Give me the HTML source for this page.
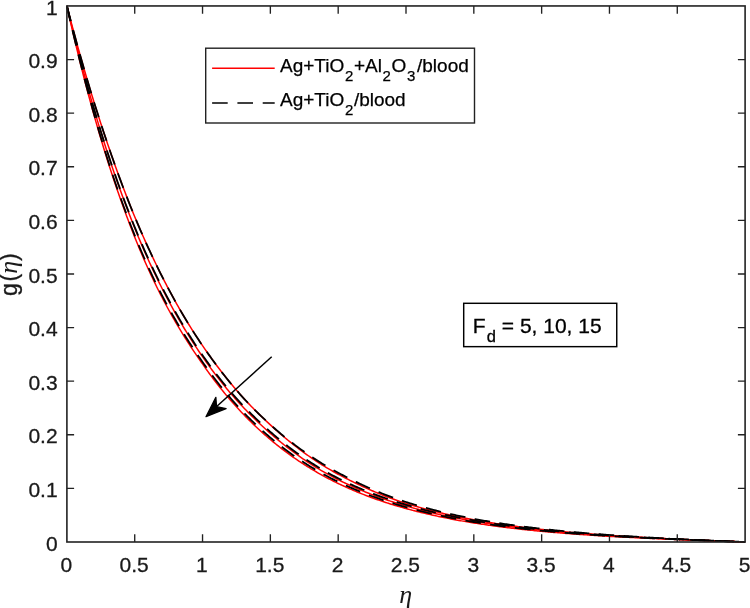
<!DOCTYPE html>
<html><head><meta charset="utf-8"><title>g(η) profile</title>
<style>
html,body{margin:0;padding:0;background:#fff;}
body{width:750px;height:608px;overflow:hidden;}
svg{display:block;}
.t{font-family:"Liberation Sans",sans-serif;font-size:21px;fill:#1a1a1a;stroke:#1a1a1a;stroke-width:0.3px;}
.lg{font-family:"Liberation Sans",sans-serif;font-size:19px;fill:#000;stroke:#000;stroke-width:0.25px;}
.sb{font-family:"Liberation Sans",sans-serif;font-size:15px;fill:#000;}
.an{font-family:"Liberation Sans",sans-serif;font-size:21px;fill:#000;stroke:#000;stroke-width:0.3px;}
.eta{font-family:"Liberation Serif",serif;font-style:italic;font-size:23px;fill:#1a1a1a;}
.yl{font-family:"Liberation Sans",sans-serif;font-size:23px;fill:#1a1a1a;stroke:#1a1a1a;stroke-width:0.3px;}
</style></head><body>
<svg width="750" height="608" viewBox="0 0 750 608">
<rect x="0" y="0" width="750" height="608" fill="#fff"/>
<g fill="none" stroke="#ff0000" stroke-width="1.5">
<path d="M66.90 5.95 L68.26 11.21 L69.61 16.41 L70.97 21.57 L72.33 26.67 L73.68 31.73 L75.04 36.75 L76.39 41.71 L77.75 46.63 L79.11 51.50 L80.46 56.33 L81.82 61.11 L83.18 65.85 L84.53 70.55 L85.89 75.20 L87.25 79.80 L88.60 84.37 L89.96 88.89 L91.32 93.36 L92.67 97.79 L94.03 102.18 L95.38 106.53 L96.74 110.84 L98.10 115.10 L99.45 119.32 L100.81 123.49 L102.17 127.64 L103.52 131.75 L104.88 135.82 L106.24 139.86 L107.59 143.87 L108.95 147.84 L110.30 151.78 L111.66 155.69 L113.02 159.56 L114.37 163.39 L115.73 167.20 L117.09 170.97 L118.44 174.70 L119.80 178.40 L121.16 182.07 L122.51 185.69 L123.87 189.29 L125.23 192.85 L126.58 196.37 L127.94 199.86 L129.29 203.31 L130.65 206.72 L132.01 210.10 L133.36 213.43 L134.72 216.73 L136.08 219.97 L137.43 223.19 L138.79 226.37 L140.15 229.52 L141.50 232.64 L142.86 235.73 L144.21 238.79 L145.57 241.82 L146.93 244.82 L148.28 247.80 L149.64 250.74 L151.00 253.66 L152.35 256.55 L153.71 259.41 L155.07 262.24 L156.42 265.05 L157.78 267.83 L159.14 270.58 L160.49 273.31 L161.85 276.01 L163.20 278.68 L164.56 281.33 L165.92 283.95 L167.27 286.54 L168.63 289.11 L169.99 291.66 L171.34 294.18 L172.70 296.67 L174.06 299.14 L175.41 301.59 L176.77 304.01 L178.12 306.41 L179.48 308.78 L180.84 311.13 L182.19 313.46 L183.55 315.76 L184.91 318.04 L186.26 320.30 L187.62 322.53 L188.98 324.74 L190.33 326.93 L191.69 329.10 L193.05 331.24 L194.40 333.36 L195.76 335.46 L197.11 337.54 L198.47 339.60 L199.83 341.63 L201.18 343.65 L202.54 345.64 L203.90 347.62 L205.25 349.59 L206.61 351.53 L207.97 353.46 L209.32 355.38 L210.68 357.27 L212.03 359.15 L213.39 361.01 L214.75 362.86 L216.10 364.69 L217.46 366.50 L218.82 368.29 L220.17 370.07 L221.53 371.84 L222.89 373.58 L224.24 375.31 L225.60 377.02 L226.96 378.72 L228.31 380.40 L229.67 382.06 L231.02 383.71 L232.38 385.34 L233.74 386.95 L235.09 388.55 L236.45 390.13 L237.81 391.70 L239.16 393.24 L240.52 394.78 L241.88 396.29 L243.23 397.79 L244.59 399.28 L245.94 400.75 L247.30 402.20 L248.66 403.63 L250.01 405.05 L251.37 406.46 L252.73 407.85 L254.08 409.22 L255.44 410.58 L256.80 411.92 L258.15 413.26 L259.51 414.60 L260.87 415.92 L262.22 417.24 L263.58 418.54 L264.93 419.83 L266.29 421.12 L267.65 422.39 L269.00 423.65 L270.36 424.91 L271.72 426.15 L273.07 427.38 L274.43 428.60 L275.79 429.82 L277.14 431.02 L278.50 432.21 L279.85 433.39 L281.21 434.56 L282.57 435.72 L283.92 436.86 L285.28 438.00 L286.64 439.13 L287.99 440.25 L289.35 441.36 L290.71 442.45 L292.06 443.54 L293.42 444.61 L294.78 445.68 L296.13 446.73 L297.49 447.77 L298.84 448.81 L300.20 449.83 L301.56 450.84 L302.91 451.84 L304.27 452.83 L305.63 453.82 L306.98 454.79 L308.34 455.74 L309.70 456.69 L311.05 457.63 L312.41 458.56 L313.76 459.48 L315.12 460.38 L316.48 461.28 L317.83 462.17 L319.19 463.04 L320.55 463.91 L321.90 464.76 L323.26 465.61 L324.62 466.44 L325.97 467.27 L327.33 468.08 L328.69 468.88 L330.04 469.68 L331.40 470.46 L332.75 471.23 L334.11 471.99 L335.47 472.75 L336.82 473.49 L338.18 474.22 L339.54 474.95 L340.89 475.67 L342.25 476.38 L343.61 477.09 L344.96 477.79 L346.32 478.49 L347.67 479.18 L349.03 479.87 L350.39 480.55 L351.74 481.23 L353.10 481.90 L354.46 482.57 L355.81 483.23 L357.17 483.89 L358.53 484.54 L359.88 485.18 L361.24 485.82 L362.60 486.45 L363.95 487.07 L365.31 487.69 L366.66 488.31 L368.02 488.92 L369.38 489.52 L370.73 490.11 L372.09 490.70 L373.45 491.29 L374.80 491.86 L376.16 492.43 L377.52 493.00 L378.87 493.56 L380.23 494.11 L381.58 494.65 L382.94 495.19 L384.30 495.73 L385.65 496.25 L387.01 496.77 L388.37 497.29 L389.72 497.79 L391.08 498.29 L392.44 498.79 L393.79 499.27 L395.15 499.76 L396.51 500.23 L397.86 500.70 L399.22 501.16 L400.57 501.62 L401.93 502.06 L403.29 502.51 L404.64 502.94 L406.00 503.37 L407.36 503.79 L408.71 504.20 L410.07 504.61 L411.43 505.01 L412.78 505.41 L414.14 505.81 L415.49 506.20 L416.85 506.59 L418.21 506.98 L419.56 507.36 L420.92 507.74 L422.28 508.11 L423.63 508.49 L424.99 508.86 L426.35 509.22 L427.70 509.58 L429.06 509.94 L430.42 510.29 L431.77 510.65 L433.13 510.99 L434.48 511.34 L435.84 511.68 L437.20 512.01 L438.55 512.35 L439.91 512.68 L441.27 513.00 L442.62 513.33 L443.98 513.65 L445.34 513.96 L446.69 514.28 L448.05 514.59 L449.40 514.89 L450.76 515.19 L452.12 515.49 L453.47 515.79 L454.83 516.08 L456.19 516.37 L457.54 516.66 L458.90 516.94 L460.26 517.22 L461.61 517.49 L462.97 517.77 L464.33 518.04 L465.68 518.30 L467.04 518.57 L468.39 518.83 L469.75 519.08 L471.11 519.34 L472.46 519.59 L473.82 519.83 L475.18 520.08 L476.53 520.32 L477.89 520.56 L479.25 520.79 L480.60 521.02 L481.96 521.26 L483.31 521.48 L484.67 521.71 L486.03 521.94 L487.38 522.16 L488.74 522.38 L490.10 522.60 L491.45 522.81 L492.81 523.02 L494.17 523.24 L495.52 523.44 L496.88 523.65 L498.24 523.86 L499.59 524.06 L500.95 524.26 L502.30 524.46 L503.66 524.66 L505.02 524.85 L506.37 525.05 L507.73 525.24 L509.09 525.43 L510.44 525.61 L511.80 525.80 L513.16 525.98 L514.51 526.17 L515.87 526.35 L517.22 526.52 L518.58 526.70 L519.94 526.88 L521.29 527.05 L522.65 527.22 L524.01 527.39 L525.36 527.56 L526.72 527.72 L528.08 527.89 L529.43 528.05 L530.79 528.21 L532.15 528.37 L533.50 528.53 L534.86 528.69 L536.21 528.85 L537.57 529.00 L538.93 529.15 L540.28 529.30 L541.64 529.45 L543.00 529.60 L544.35 529.75 L545.71 529.89 L547.07 530.04 L548.42 530.18 L549.78 530.32 L551.13 530.46 L552.49 530.60 L553.85 530.73 L555.20 530.87 L556.56 531.00 L557.92 531.14 L559.27 531.27 L560.63 531.40 L561.99 531.53 L563.34 531.65 L564.70 531.78 L566.06 531.91 L567.41 532.03 L568.77 532.15 L570.12 532.28 L571.48 532.40 L572.84 532.52 L574.19 532.63 L575.55 532.75 L576.91 532.87 L578.26 532.98 L579.62 533.10 L580.98 533.21 L582.33 533.32 L583.69 533.43 L585.04 533.54 L586.40 533.65 L587.76 533.76 L589.11 533.86 L590.47 533.97 L591.83 534.08 L593.18 534.18 L594.54 534.28 L595.90 534.38 L597.25 534.49 L598.61 534.59 L599.97 534.68 L601.32 534.78 L602.68 534.88 L604.03 534.98 L605.39 535.07 L606.75 535.17 L608.10 535.26 L609.46 535.35 L610.82 535.45 L612.17 535.54 L613.53 535.63 L614.89 535.72 L616.24 535.81 L617.60 535.90 L618.95 535.98 L620.31 536.07 L621.67 536.16 L623.02 536.24 L624.38 536.33 L625.74 536.41 L627.09 536.49 L628.45 536.58 L629.81 536.66 L631.16 536.74 L632.52 536.82 L633.88 536.90 L635.23 536.98 L636.59 537.06 L637.94 537.13 L639.30 537.21 L640.66 537.29 L642.01 537.36 L643.37 537.44 L644.73 537.52 L646.08 537.59 L647.44 537.66 L648.80 537.74 L650.15 537.81 L651.51 537.88 L652.86 537.95 L654.22 538.02 L655.58 538.09 L656.93 538.16 L658.29 538.23 L659.65 538.30 L661.00 538.37 L662.36 538.44 L663.72 538.51 L665.07 538.57 L666.43 538.64 L667.79 538.71 L669.14 538.77 L670.50 538.84 L671.85 538.90 L673.21 538.97 L674.57 539.03 L675.92 539.10 L677.28 539.16 L678.64 539.22 L679.99 539.29 L681.35 539.35 L682.71 539.41 L684.06 539.47 L685.42 539.53 L686.77 539.59 L688.13 539.65 L689.49 539.71 L690.84 539.77 L692.20 539.83 L693.56 539.89 L694.91 539.95 L696.27 540.01 L697.63 540.07 L698.98 540.13 L700.34 540.19 L701.70 540.24 L703.05 540.30 L704.41 540.36 L705.76 540.42 L707.12 540.47 L708.48 540.53 L709.83 540.59 L711.19 540.64 L712.55 540.70 L713.90 540.75 L715.26 540.81 L716.62 540.86 L717.97 540.92 L719.33 540.97 L720.68 541.03 L722.04 541.08 L723.40 541.14 L724.75 541.19 L726.11 541.25 L727.47 541.30 L728.82 541.36 L730.18 541.41 L731.54 541.46 L732.89 541.52 L734.25 541.57 L735.61 541.63 L736.96 541.68 L738.32 541.73 L739.67 541.79 L741.03 541.84 L742.39 541.89 L743.74 541.95 L745.10 542.00"/>
<path d="M66.90 5.95 L68.26 11.66 L69.61 17.30 L70.97 22.88 L72.33 28.41 L73.68 33.88 L75.04 39.28 L76.39 44.63 L77.75 49.93 L79.11 55.17 L80.46 60.35 L81.82 65.47 L83.18 70.55 L84.53 75.56 L85.89 80.53 L87.25 85.44 L88.60 90.30 L89.96 95.11 L91.32 99.86 L92.67 104.57 L94.03 109.22 L95.38 113.83 L96.74 118.39 L98.10 122.89 L99.45 127.35 L100.81 131.77 L102.17 136.13 L103.52 140.45 L104.88 144.73 L106.24 148.95 L107.59 153.14 L108.95 157.28 L110.30 161.37 L111.66 165.42 L113.02 169.43 L114.37 173.40 L115.73 177.32 L117.09 181.20 L118.44 185.04 L119.80 188.84 L121.16 192.60 L122.51 196.32 L123.87 200.00 L125.23 203.64 L126.58 207.25 L127.94 210.81 L129.29 214.34 L130.65 217.83 L132.01 221.28 L133.36 224.69 L134.72 228.07 L136.08 231.40 L137.43 234.69 L138.79 237.95 L140.15 241.16 L141.50 244.34 L142.86 247.49 L144.21 250.60 L145.57 253.67 L146.93 256.71 L148.28 259.72 L149.64 262.69 L151.00 265.62 L152.35 268.53 L153.71 271.40 L155.07 274.24 L156.42 277.05 L157.78 279.82 L159.14 282.57 L160.49 285.28 L161.85 287.97 L163.20 290.62 L164.56 293.25 L165.92 295.84 L167.27 298.41 L168.63 300.95 L169.99 303.46 L171.34 305.96 L172.70 308.42 L174.06 310.86 L175.41 313.27 L176.77 315.66 L178.12 318.03 L179.48 320.37 L180.84 322.68 L182.19 324.98 L183.55 327.25 L184.91 329.49 L186.26 331.71 L187.62 333.91 L188.98 336.09 L190.33 338.25 L191.69 340.38 L193.05 342.49 L194.40 344.58 L195.76 346.65 L197.11 348.70 L198.47 350.73 L199.83 352.73 L201.18 354.72 L202.54 356.69 L203.90 358.65 L205.25 360.58 L206.61 362.50 L207.97 364.40 L209.32 366.28 L210.68 368.13 L212.03 369.97 L213.39 371.79 L214.75 373.59 L216.10 375.37 L217.46 377.13 L218.82 378.87 L220.17 380.59 L221.53 382.30 L222.89 383.98 L224.24 385.65 L225.60 387.30 L226.96 388.94 L228.31 390.56 L229.67 392.16 L231.02 393.74 L232.38 395.31 L233.74 396.86 L235.09 398.39 L236.45 399.91 L237.81 401.41 L239.16 402.90 L240.52 404.37 L241.88 405.82 L243.23 407.26 L244.59 408.69 L245.94 410.10 L247.30 411.50 L248.66 412.88 L250.01 414.25 L251.37 415.60 L252.73 416.94 L254.08 418.26 L255.44 419.58 L256.80 420.87 L258.15 422.18 L259.51 423.47 L260.87 424.75 L262.22 426.01 L263.58 427.27 L264.93 428.51 L266.29 429.74 L267.65 430.96 L269.00 432.17 L270.36 433.37 L271.72 434.55 L273.07 435.73 L274.43 436.89 L275.79 438.04 L277.14 439.18 L278.50 440.31 L279.85 441.42 L281.21 442.53 L282.57 443.62 L283.92 444.71 L285.28 445.78 L286.64 446.84 L287.99 447.89 L289.35 448.93 L290.71 449.96 L292.06 450.98 L293.42 451.99 L294.78 452.99 L296.13 453.98 L297.49 454.95 L298.84 455.92 L300.20 456.88 L301.56 457.82 L302.91 458.76 L304.27 459.69 L305.63 460.60 L306.98 461.51 L308.34 462.40 L309.70 463.29 L311.05 464.17 L312.41 465.03 L313.76 465.89 L315.12 466.74 L316.48 467.57 L317.83 468.40 L319.19 469.22 L320.55 470.03 L321.90 470.83 L323.26 471.62 L324.62 472.40 L325.97 473.17 L327.33 473.94 L328.69 474.69 L330.04 475.44 L331.40 476.17 L332.75 476.90 L334.11 477.62 L335.47 478.33 L336.82 479.03 L338.18 479.72 L339.54 480.39 L340.89 481.06 L342.25 481.72 L343.61 482.38 L344.96 483.02 L346.32 483.66 L347.67 484.29 L349.03 484.92 L350.39 485.54 L351.74 486.15 L353.10 486.76 L354.46 487.36 L355.81 487.95 L357.17 488.54 L358.53 489.12 L359.88 489.70 L361.24 490.27 L362.60 490.83 L363.95 491.39 L365.31 491.94 L366.66 492.48 L368.02 493.02 L369.38 493.55 L370.73 494.08 L372.09 494.60 L373.45 495.12 L374.80 495.63 L376.16 496.14 L377.52 496.64 L378.87 497.13 L380.23 497.62 L381.58 498.10 L382.94 498.58 L384.30 499.05 L385.65 499.52 L387.01 499.98 L388.37 500.44 L389.72 500.90 L391.08 501.34 L392.44 501.79 L393.79 502.22 L395.15 502.66 L396.51 503.09 L397.86 503.51 L399.22 503.93 L400.57 504.34 L401.93 504.75 L403.29 505.16 L404.64 505.56 L406.00 505.96 L407.36 506.35 L408.71 506.74 L410.07 507.12 L411.43 507.50 L412.78 507.87 L414.14 508.25 L415.49 508.61 L416.85 508.98 L418.21 509.34 L419.56 509.69 L420.92 510.04 L422.28 510.39 L423.63 510.74 L424.99 511.08 L426.35 511.42 L427.70 511.75 L429.06 512.08 L430.42 512.41 L431.77 512.73 L433.13 513.05 L434.48 513.37 L435.84 513.68 L437.20 513.99 L438.55 514.30 L439.91 514.60 L441.27 514.91 L442.62 515.20 L443.98 515.50 L445.34 515.79 L446.69 516.08 L448.05 516.36 L449.40 516.64 L450.76 516.92 L452.12 517.20 L453.47 517.47 L454.83 517.74 L456.19 518.01 L457.54 518.27 L458.90 518.53 L460.26 518.79 L461.61 519.05 L462.97 519.30 L464.33 519.55 L465.68 519.80 L467.04 520.05 L468.39 520.29 L469.75 520.53 L471.11 520.77 L472.46 521.00 L473.82 521.23 L475.18 521.46 L476.53 521.69 L477.89 521.92 L479.25 522.14 L480.60 522.36 L481.96 522.58 L483.31 522.79 L484.67 523.01 L486.03 523.22 L487.38 523.43 L488.74 523.63 L490.10 523.84 L491.45 524.04 L492.81 524.24 L494.17 524.44 L495.52 524.64 L496.88 524.83 L498.24 525.03 L499.59 525.22 L500.95 525.40 L502.30 525.59 L503.66 525.78 L505.02 525.96 L506.37 526.14 L507.73 526.32 L509.09 526.50 L510.44 526.67 L511.80 526.85 L513.16 527.02 L514.51 527.19 L515.87 527.36 L517.22 527.52 L518.58 527.69 L519.94 527.85 L521.29 528.01 L522.65 528.17 L524.01 528.33 L525.36 528.49 L526.72 528.64 L528.08 528.80 L529.43 528.95 L530.79 529.10 L532.15 529.25 L533.50 529.40 L534.86 529.54 L536.21 529.69 L537.57 529.83 L538.93 529.97 L540.28 530.11 L541.64 530.25 L543.00 530.39 L544.35 530.53 L545.71 530.66 L547.07 530.79 L548.42 530.93 L549.78 531.06 L551.13 531.19 L552.49 531.32 L553.85 531.44 L555.20 531.57 L556.56 531.69 L557.92 531.82 L559.27 531.94 L560.63 532.06 L561.99 532.18 L563.34 532.30 L564.70 532.42 L566.06 532.53 L567.41 532.65 L568.77 532.76 L570.12 532.87 L571.48 532.99 L572.84 533.10 L574.19 533.21 L575.55 533.32 L576.91 533.42 L578.26 533.53 L579.62 533.64 L580.98 533.74 L582.33 533.84 L583.69 533.95 L585.04 534.05 L586.40 534.15 L587.76 534.25 L589.11 534.35 L590.47 534.45 L591.83 534.54 L593.18 534.64 L594.54 534.74 L595.90 534.83 L597.25 534.92 L598.61 535.02 L599.97 535.11 L601.32 535.20 L602.68 535.29 L604.03 535.38 L605.39 535.47 L606.75 535.56 L608.10 535.64 L609.46 535.73 L610.82 535.82 L612.17 535.90 L613.53 535.99 L614.89 536.07 L616.24 536.15 L617.60 536.23 L618.95 536.32 L620.31 536.40 L621.67 536.48 L623.02 536.56 L624.38 536.63 L625.74 536.71 L627.09 536.79 L628.45 536.87 L629.81 536.94 L631.16 537.02 L632.52 537.09 L633.88 537.17 L635.23 537.24 L636.59 537.32 L637.94 537.39 L639.30 537.46 L640.66 537.53 L642.01 537.60 L643.37 537.67 L644.73 537.74 L646.08 537.81 L647.44 537.88 L648.80 537.95 L650.15 538.02 L651.51 538.09 L652.86 538.15 L654.22 538.22 L655.58 538.29 L656.93 538.35 L658.29 538.42 L659.65 538.48 L661.00 538.55 L662.36 538.61 L663.72 538.67 L665.07 538.74 L666.43 538.80 L667.79 538.86 L669.14 538.92 L670.50 538.99 L671.85 539.05 L673.21 539.11 L674.57 539.17 L675.92 539.23 L677.28 539.29 L678.64 539.35 L679.99 539.41 L681.35 539.47 L682.71 539.53 L684.06 539.58 L685.42 539.64 L686.77 539.70 L688.13 539.76 L689.49 539.81 L690.84 539.87 L692.20 539.93 L693.56 539.98 L694.91 540.04 L696.27 540.10 L697.63 540.15 L698.98 540.21 L700.34 540.26 L701.70 540.32 L703.05 540.37 L704.41 540.43 L705.76 540.48 L707.12 540.53 L708.48 540.59 L709.83 540.64 L711.19 540.70 L712.55 540.75 L713.90 540.80 L715.26 540.86 L716.62 540.91 L717.97 540.96 L719.33 541.01 L720.68 541.07 L722.04 541.12 L723.40 541.17 L724.75 541.22 L726.11 541.28 L727.47 541.33 L728.82 541.38 L730.18 541.43 L731.54 541.48 L732.89 541.54 L734.25 541.59 L735.61 541.64 L736.96 541.69 L738.32 541.74 L739.67 541.79 L741.03 541.85 L742.39 541.90 L743.74 541.95 L745.10 542.00"/>
<path d="M66.90 5.95 L68.26 12.04 L69.61 18.05 L70.97 24.00 L72.33 29.87 L73.68 35.68 L75.04 41.42 L76.39 47.09 L77.75 52.69 L79.11 58.23 L80.46 63.70 L81.82 69.11 L83.18 74.46 L84.53 79.74 L85.89 84.96 L87.25 90.12 L88.60 95.22 L89.96 100.26 L91.32 105.25 L92.67 110.18 L94.03 115.06 L95.38 119.87 L96.74 124.63 L98.10 129.33 L99.45 133.97 L100.81 138.55 L102.17 143.08 L103.52 147.56 L104.88 151.98 L106.24 156.35 L107.59 160.66 L108.95 164.92 L110.30 169.13 L111.66 173.29 L113.02 177.40 L114.37 181.46 L115.73 185.47 L117.09 189.44 L118.44 193.36 L119.80 197.23 L121.16 201.06 L122.51 204.85 L123.87 208.59 L125.23 212.30 L126.58 215.96 L127.94 219.58 L129.29 223.16 L130.65 226.70 L132.01 230.21 L133.36 233.68 L134.72 237.11 L136.08 240.49 L137.43 243.82 L138.79 247.11 L140.15 250.36 L141.50 253.56 L142.86 256.73 L144.21 259.85 L145.57 262.94 L146.93 265.98 L148.28 268.98 L149.64 271.95 L151.00 274.88 L152.35 277.77 L153.71 280.62 L155.07 283.44 L156.42 286.22 L157.78 288.97 L159.14 291.68 L160.49 294.36 L161.85 297.01 L163.20 299.62 L164.56 302.20 L165.92 304.75 L167.27 307.27 L168.63 309.76 L169.99 312.22 L171.34 314.65 L172.70 317.06 L174.06 319.43 L175.41 321.78 L176.77 324.11 L178.12 326.40 L179.48 328.67 L180.84 330.92 L182.19 333.14 L183.55 335.34 L184.91 337.52 L186.26 339.67 L187.62 341.80 L188.98 343.91 L190.33 346.00 L191.69 348.07 L193.05 350.12 L194.40 352.15 L195.76 354.16 L197.11 356.15 L198.47 358.12 L199.83 360.08 L201.18 362.02 L202.54 363.94 L203.90 365.90 L205.25 367.83 L206.61 369.74 L207.97 371.63 L209.32 373.49 L210.68 375.34 L212.03 377.17 L213.39 378.97 L214.75 380.76 L216.10 382.53 L217.46 384.28 L218.82 386.00 L220.17 387.71 L221.53 389.40 L222.89 391.08 L224.24 392.73 L225.60 394.37 L226.96 395.98 L228.31 397.59 L229.67 399.17 L231.02 400.73 L232.38 402.28 L233.74 403.81 L235.09 405.33 L236.45 406.83 L237.81 408.31 L239.16 409.78 L240.52 411.23 L241.88 412.66 L243.23 414.08 L244.59 415.49 L245.94 416.88 L247.30 418.25 L248.66 419.61 L250.01 420.95 L251.37 422.28 L252.73 423.60 L254.08 424.90 L255.44 426.19 L256.80 427.46 L258.15 428.73 L259.51 429.98 L260.87 431.22 L262.22 432.45 L263.58 433.66 L264.93 434.86 L266.29 436.05 L267.65 437.22 L269.00 438.39 L270.36 439.54 L271.72 440.67 L273.07 441.80 L274.43 442.91 L275.79 444.01 L277.14 445.10 L278.50 446.18 L279.85 447.25 L281.21 448.30 L282.57 449.35 L283.92 450.38 L285.28 451.40 L286.64 452.41 L287.99 453.41 L289.35 454.39 L290.71 455.37 L292.06 456.34 L293.42 457.29 L294.78 458.24 L296.13 459.17 L297.49 460.10 L298.84 461.01 L300.20 461.92 L301.56 462.81 L302.91 463.69 L304.27 464.57 L305.63 465.43 L306.98 466.29 L308.34 467.14 L309.70 467.97 L311.05 468.80 L312.41 469.62 L313.76 470.42 L315.12 471.22 L316.48 472.01 L317.83 472.80 L319.19 473.57 L320.55 474.33 L321.90 475.09 L323.26 475.83 L324.62 476.57 L325.97 477.30 L327.33 478.02 L328.69 478.74 L330.04 479.44 L331.40 480.14 L332.75 480.83 L334.11 481.51 L335.47 482.18 L336.82 482.85 L338.18 483.51 L339.54 484.15 L340.89 484.79 L342.25 485.43 L343.61 486.05 L344.96 486.67 L346.32 487.28 L347.67 487.89 L349.03 488.49 L350.39 489.08 L351.74 489.67 L353.10 490.25 L354.46 490.82 L355.81 491.39 L357.17 491.95 L358.53 492.51 L359.88 493.06 L361.24 493.60 L362.60 494.14 L363.95 494.67 L365.31 495.20 L366.66 495.72 L368.02 496.23 L369.38 496.74 L370.73 497.24 L372.09 497.74 L373.45 498.23 L374.80 498.72 L376.16 499.20 L377.52 499.68 L378.87 500.15 L380.23 500.61 L381.58 501.07 L382.94 501.53 L384.30 501.98 L385.65 502.42 L387.01 502.86 L388.37 503.30 L389.72 503.73 L391.08 504.16 L392.44 504.58 L393.79 504.99 L395.15 505.41 L396.51 505.81 L397.86 506.22 L399.22 506.62 L400.57 507.01 L401.93 507.40 L403.29 507.78 L404.64 508.16 L406.00 508.54 L407.36 508.91 L408.71 509.28 L410.07 509.64 L411.43 510.00 L412.78 510.36 L414.14 510.71 L415.49 511.06 L416.85 511.40 L418.21 511.74 L419.56 512.08 L420.92 512.41 L422.28 512.74 L423.63 513.07 L424.99 513.39 L426.35 513.71 L427.70 514.02 L429.06 514.34 L430.42 514.64 L431.77 514.95 L433.13 515.25 L434.48 515.55 L435.84 515.84 L437.20 516.14 L438.55 516.42 L439.91 516.71 L441.27 516.99 L442.62 517.27 L443.98 517.55 L445.34 517.82 L446.69 518.09 L448.05 518.36 L449.40 518.62 L450.76 518.89 L452.12 519.15 L453.47 519.40 L454.83 519.65 L456.19 519.91 L457.54 520.15 L458.90 520.40 L460.26 520.64 L461.61 520.88 L462.97 521.12 L464.33 521.35 L465.68 521.59 L467.04 521.81 L468.39 522.04 L469.75 522.27 L471.11 522.49 L472.46 522.71 L473.82 522.93 L475.18 523.14 L476.53 523.35 L477.89 523.56 L479.25 523.77 L480.60 523.98 L481.96 524.18 L483.31 524.38 L484.67 524.58 L486.03 524.78 L487.38 524.98 L488.74 525.17 L490.10 525.36 L491.45 525.55 L492.81 525.73 L494.17 525.92 L495.52 526.10 L496.88 526.28 L498.24 526.46 L499.59 526.64 L500.95 526.81 L502.30 526.99 L503.66 527.16 L505.02 527.33 L506.37 527.50 L507.73 527.66 L509.09 527.83 L510.44 527.99 L511.80 528.15 L513.16 528.31 L514.51 528.47 L515.87 528.62 L517.22 528.78 L518.58 528.93 L519.94 529.08 L521.29 529.23 L522.65 529.38 L524.01 529.52 L525.36 529.67 L526.72 529.81 L528.08 529.95 L529.43 530.09 L530.79 530.23 L532.15 530.37 L533.50 530.51 L534.86 530.64 L536.21 530.77 L537.57 530.91 L538.93 531.04 L540.28 531.16 L541.64 531.29 L543.00 531.42 L544.35 531.54 L545.71 531.67 L547.07 531.79 L548.42 531.91 L549.78 532.03 L551.13 532.15 L552.49 532.27 L553.85 532.39 L555.20 532.50 L556.56 532.61 L557.92 532.73 L559.27 532.84 L560.63 532.95 L561.99 533.06 L563.34 533.17 L564.70 533.28 L566.06 533.38 L567.41 533.49 L568.77 533.59 L570.12 533.70 L571.48 533.80 L572.84 533.90 L574.19 534.00 L575.55 534.10 L576.91 534.20 L578.26 534.29 L579.62 534.39 L580.98 534.49 L582.33 534.58 L583.69 534.68 L585.04 534.77 L586.40 534.86 L587.76 534.95 L589.11 535.04 L590.47 535.13 L591.83 535.22 L593.18 535.31 L594.54 535.39 L595.90 535.48 L597.25 535.57 L598.61 535.65 L599.97 535.73 L601.32 535.82 L602.68 535.90 L604.03 535.98 L605.39 536.06 L606.75 536.14 L608.10 536.22 L609.46 536.30 L610.82 536.38 L612.17 536.45 L613.53 536.53 L614.89 536.61 L616.24 536.68 L617.60 536.76 L618.95 536.83 L620.31 536.90 L621.67 536.98 L623.02 537.05 L624.38 537.12 L625.74 537.19 L627.09 537.26 L628.45 537.33 L629.81 537.40 L631.16 537.47 L632.52 537.54 L633.88 537.61 L635.23 537.67 L636.59 537.74 L637.94 537.81 L639.30 537.87 L640.66 537.94 L642.01 538.00 L643.37 538.06 L644.73 538.13 L646.08 538.19 L647.44 538.25 L648.80 538.32 L650.15 538.38 L651.51 538.44 L652.86 538.50 L654.22 538.56 L655.58 538.62 L656.93 538.68 L658.29 538.74 L659.65 538.80 L661.00 538.86 L662.36 538.92 L663.72 538.97 L665.07 539.03 L666.43 539.09 L667.79 539.14 L669.14 539.20 L670.50 539.26 L671.85 539.31 L673.21 539.37 L674.57 539.42 L675.92 539.48 L677.28 539.53 L678.64 539.59 L679.99 539.64 L681.35 539.69 L682.71 539.75 L684.06 539.80 L685.42 539.85 L686.77 539.90 L688.13 539.96 L689.49 540.01 L690.84 540.06 L692.20 540.11 L693.56 540.16 L694.91 540.21 L696.27 540.26 L697.63 540.31 L698.98 540.36 L700.34 540.41 L701.70 540.46 L703.05 540.51 L704.41 540.56 L705.76 540.61 L707.12 540.66 L708.48 540.71 L709.83 540.76 L711.19 540.81 L712.55 540.86 L713.90 540.91 L715.26 540.96 L716.62 541.00 L717.97 541.05 L719.33 541.10 L720.68 541.15 L722.04 541.20 L723.40 541.24 L724.75 541.29 L726.11 541.34 L727.47 541.39 L728.82 541.43 L730.18 541.48 L731.54 541.53 L732.89 541.58 L734.25 541.62 L735.61 541.67 L736.96 541.72 L738.32 541.76 L739.67 541.81 L741.03 541.86 L742.39 541.91 L743.74 541.95 L745.10 542.00"/>
</g>
<g fill="none" stroke="#000" stroke-width="1.8" stroke-dasharray="15.6 9.4">
<path d="M66.90 5.95 L68.26 11.21 L69.61 16.41 L70.97 21.57 L72.33 26.67 L73.68 31.73 L75.04 36.75 L76.39 41.71 L77.75 46.63 L79.11 51.50 L80.46 56.33 L81.82 61.11 L83.18 65.85 L84.53 70.55 L85.89 75.20 L87.25 79.80 L88.60 84.37 L89.96 88.89 L91.32 93.36 L92.67 97.79 L94.03 102.18 L95.38 106.53 L96.74 110.84 L98.10 115.10 L99.45 119.32 L100.81 123.49 L102.17 127.64 L103.52 131.75 L104.88 135.82 L106.24 139.86 L107.59 143.87 L108.95 147.84 L110.30 151.78 L111.66 155.69 L113.02 159.56 L114.37 163.39 L115.73 167.20 L117.09 170.97 L118.44 174.70 L119.80 178.40 L121.16 182.07 L122.51 185.69 L123.87 189.29 L125.23 192.85 L126.58 196.37 L127.94 199.86 L129.29 203.31 L130.65 206.72 L132.01 210.10 L133.36 213.43 L134.72 216.73 L136.08 219.97 L137.43 223.19 L138.79 226.37 L140.15 229.52 L141.50 232.64 L142.86 235.73 L144.21 238.79 L145.57 241.82 L146.93 244.82 L148.28 247.80 L149.64 250.74 L151.00 253.66 L152.35 256.55 L153.71 259.41 L155.07 262.24 L156.42 265.05 L157.78 267.83 L159.14 270.58 L160.49 273.31 L161.85 276.01 L163.20 278.68 L164.56 281.33 L165.92 283.95 L167.27 286.54 L168.63 289.11 L169.99 291.66 L171.34 294.18 L172.70 296.67 L174.06 299.14 L175.41 301.59 L176.77 304.01 L178.12 306.41 L179.48 308.78 L180.84 311.13 L182.19 313.46 L183.55 315.76 L184.91 318.04 L186.26 320.30 L187.62 322.53 L188.98 324.74 L190.33 326.93 L191.69 329.10 L193.05 331.24 L194.40 333.36 L195.76 335.46 L197.11 337.54 L198.47 339.60 L199.83 341.63 L201.18 343.65 L202.54 345.64 L203.90 347.62 L205.25 349.59 L206.61 351.53 L207.97 353.46 L209.32 355.38 L210.68 357.27 L212.03 359.15 L213.39 361.01 L214.75 362.86 L216.10 364.69 L217.46 366.50 L218.82 368.29 L220.17 370.07 L221.53 371.84 L222.89 373.58 L224.24 375.31 L225.60 377.02 L226.96 378.72 L228.31 380.40 L229.67 382.06 L231.02 383.71 L232.38 385.34 L233.74 386.95 L235.09 388.55 L236.45 390.13 L237.81 391.70 L239.16 393.24 L240.52 394.78 L241.88 396.29 L243.23 397.79 L244.59 399.28 L245.94 400.75 L247.30 402.20 L248.66 403.63 L250.01 405.05 L251.37 406.46 L252.73 407.85 L254.08 409.22 L255.44 410.58 L256.80 411.92 L258.15 413.24 L259.51 414.56 L260.87 415.86 L262.22 417.16 L263.58 418.44 L264.93 419.71 L266.29 420.97 L267.65 422.21 L269.00 423.45 L270.36 424.68 L271.72 425.89 L273.07 427.09 L274.43 428.28 L275.79 429.46 L277.14 430.63 L278.50 431.79 L279.85 432.94 L281.21 434.08 L282.57 435.20 L283.92 436.32 L285.28 437.42 L286.64 438.52 L287.99 439.60 L289.35 440.67 L290.71 441.74 L292.06 442.79 L293.42 443.83 L294.78 444.86 L296.13 445.88 L297.49 446.89 L298.84 447.89 L300.20 448.89 L301.56 449.87 L302.91 450.84 L304.27 451.80 L305.63 452.75 L306.98 453.69 L308.34 454.62 L309.70 455.54 L311.05 456.45 L312.41 457.36 L313.76 458.25 L315.12 459.13 L316.48 460.00 L317.83 460.87 L319.19 461.72 L320.55 462.57 L321.90 463.40 L323.26 464.23 L324.62 465.05 L325.97 465.86 L327.33 466.65 L328.69 467.44 L330.04 468.23 L331.40 469.00 L332.75 469.76 L334.11 470.51 L335.47 471.26 L336.82 472.00 L338.18 472.72 L339.54 473.45 L340.89 474.17 L342.25 474.89 L343.61 475.60 L344.96 476.31 L346.32 477.01 L347.67 477.71 L349.03 478.40 L350.39 479.08 L351.74 479.76 L353.10 480.44 L354.46 481.10 L355.81 481.77 L357.17 482.42 L358.53 483.07 L359.88 483.72 L361.24 484.36 L362.60 484.99 L363.95 485.62 L365.31 486.24 L366.66 486.85 L368.02 487.46 L369.38 488.06 L370.73 488.66 L372.09 489.25 L373.45 489.84 L374.80 490.42 L376.16 490.99 L377.52 491.55 L378.87 492.11 L380.23 492.67 L381.58 493.22 L382.94 493.76 L384.30 494.29 L385.65 494.82 L387.01 495.34 L388.37 495.86 L389.72 496.37 L391.08 496.88 L392.44 497.37 L393.79 497.87 L395.15 498.35 L396.51 498.83 L397.86 499.30 L399.22 499.77 L400.57 500.23 L401.93 500.68 L403.29 501.13 L404.64 501.57 L406.00 502.01 L407.36 502.43 L408.71 502.85 L410.07 503.27 L411.43 503.68 L412.78 504.09 L414.14 504.49 L415.49 504.90 L416.85 505.29 L418.21 505.69 L419.56 506.08 L420.92 506.46 L422.28 506.85 L423.63 507.23 L424.99 507.60 L426.35 507.97 L427.70 508.34 L429.06 508.71 L430.42 509.07 L431.77 509.43 L433.13 509.78 L434.48 510.13 L435.84 510.48 L437.20 510.83 L438.55 511.17 L439.91 511.50 L441.27 511.84 L442.62 512.17 L443.98 512.49 L445.34 512.82 L446.69 513.14 L448.05 513.45 L449.40 513.76 L450.76 514.07 L452.12 514.38 L453.47 514.68 L454.83 514.98 L456.19 515.28 L457.54 515.57 L458.90 515.86 L460.26 516.15 L461.61 516.43 L462.97 516.71 L464.33 516.99 L465.68 517.26 L467.04 517.53 L468.39 517.80 L469.75 518.06 L471.11 518.32 L472.46 518.58 L473.82 518.83 L475.18 519.09 L476.53 519.33 L477.89 519.58 L479.25 519.82 L480.60 520.06 L481.96 520.30 L483.31 520.54 L484.67 520.77 L486.03 521.01 L487.38 521.24 L488.74 521.46 L490.10 521.69 L491.45 521.91 L492.81 522.13 L494.17 522.35 L495.52 522.57 L496.88 522.78 L498.24 522.99 L499.59 523.20 L500.95 523.41 L502.30 523.62 L503.66 523.82 L505.02 524.02 L506.37 524.23 L507.73 524.42 L509.09 524.62 L510.44 524.81 L511.80 525.01 L513.16 525.20 L514.51 525.39 L515.87 525.57 L517.22 525.76 L518.58 525.94 L519.94 526.12 L521.29 526.30 L522.65 526.48 L524.01 526.66 L525.36 526.83 L526.72 527.01 L528.08 527.18 L529.43 527.35 L530.79 527.51 L532.15 527.68 L533.50 527.85 L534.86 528.01 L536.21 528.17 L537.57 528.33 L538.93 528.49 L540.28 528.65 L541.64 528.80 L543.00 528.96 L544.35 529.11 L545.71 529.26 L547.07 529.41 L548.42 529.56 L549.78 529.70 L551.13 529.85 L552.49 529.99 L553.85 530.14 L555.20 530.28 L556.56 530.42 L557.92 530.56 L559.27 530.69 L560.63 530.83 L561.99 530.96 L563.34 531.10 L564.70 531.23 L566.06 531.36 L567.41 531.49 L568.77 531.62 L570.12 531.75 L571.48 531.87 L572.84 532.00 L574.19 532.12 L575.55 532.24 L576.91 532.37 L578.26 532.49 L579.62 532.61 L580.98 532.72 L582.33 532.84 L583.69 532.96 L585.04 533.07 L586.40 533.19 L587.76 533.30 L589.11 533.41 L590.47 533.52 L591.83 533.63 L593.18 533.74 L594.54 533.85 L595.90 533.95 L597.25 534.06 L598.61 534.16 L599.97 534.27 L601.32 534.37 L602.68 534.47 L604.03 534.58 L605.39 534.68 L606.75 534.78 L608.10 534.87 L609.46 534.97 L610.82 535.07 L612.17 535.17 L613.53 535.26 L614.89 535.35 L616.24 535.45 L617.60 535.54 L618.95 535.63 L620.31 535.72 L621.67 535.82 L623.02 535.91 L624.38 535.99 L625.74 536.08 L627.09 536.17 L628.45 536.26 L629.81 536.34 L631.16 536.43 L632.52 536.51 L633.88 536.60 L635.23 536.68 L636.59 536.76 L637.94 536.85 L639.30 536.93 L640.66 537.01 L642.01 537.09 L643.37 537.17 L644.73 537.25 L646.08 537.33 L647.44 537.40 L648.80 537.48 L650.15 537.56 L651.51 537.63 L652.86 537.71 L654.22 537.78 L655.58 537.86 L656.93 537.93 L658.29 538.01 L659.65 538.08 L661.00 538.15 L662.36 538.22 L663.72 538.30 L665.07 538.37 L666.43 538.44 L667.79 538.51 L669.14 538.58 L670.50 538.65 L671.85 538.71 L673.21 538.78 L674.57 538.85 L675.92 538.92 L677.28 538.99 L678.64 539.05 L679.99 539.12 L681.35 539.18 L682.71 539.25 L684.06 539.32 L685.42 539.38 L686.77 539.44 L688.13 539.51 L689.49 539.57 L690.84 539.64 L692.20 539.70 L693.56 539.76 L694.91 539.83 L696.27 539.89 L697.63 539.95 L698.98 540.01 L700.34 540.07 L701.70 540.13 L703.05 540.20 L704.41 540.26 L705.76 540.32 L707.12 540.38 L708.48 540.44 L709.83 540.50 L711.19 540.56 L712.55 540.62 L713.90 540.68 L715.26 540.73 L716.62 540.79 L717.97 540.85 L719.33 540.91 L720.68 540.97 L722.04 541.03 L723.40 541.08 L724.75 541.14 L726.11 541.20 L727.47 541.26 L728.82 541.32 L730.18 541.37 L731.54 541.43 L732.89 541.49 L734.25 541.54 L735.61 541.60 L736.96 541.66 L738.32 541.72 L739.67 541.77 L741.03 541.83 L742.39 541.89 L743.74 541.94 L745.10 542.00"/>
<path d="M66.90 5.95 L68.26 11.63 L69.61 17.25 L70.97 22.81 L72.33 28.31 L73.68 33.75 L75.04 39.13 L76.39 44.46 L77.75 49.73 L79.11 54.94 L80.46 60.10 L81.82 65.20 L83.18 70.25 L84.53 75.25 L85.89 80.19 L87.25 85.08 L88.60 89.92 L89.96 94.70 L91.32 99.44 L92.67 104.13 L94.03 108.76 L95.38 113.35 L96.74 117.88 L98.10 122.37 L99.45 126.81 L100.81 131.21 L102.17 135.56 L103.52 139.86 L104.88 144.11 L106.24 148.32 L107.59 152.49 L108.95 156.61 L110.30 160.69 L111.66 164.72 L113.02 168.71 L114.37 172.66 L115.73 176.57 L117.09 180.44 L118.44 184.26 L119.80 188.05 L121.16 191.79 L122.51 195.49 L123.87 199.16 L125.23 202.79 L126.58 206.37 L127.94 209.93 L129.29 213.44 L130.65 216.91 L132.01 220.35 L133.36 223.76 L134.72 227.12 L136.08 230.44 L137.43 233.72 L138.79 236.96 L140.15 240.16 L141.50 243.33 L142.86 246.47 L144.21 249.57 L145.57 252.63 L146.93 255.66 L148.28 258.65 L149.64 261.61 L151.00 264.54 L152.35 267.44 L153.71 270.30 L155.07 273.13 L156.42 275.93 L157.78 278.70 L159.14 281.43 L160.49 284.14 L161.85 286.82 L163.20 289.47 L164.56 292.09 L165.92 294.68 L167.27 297.24 L168.63 299.77 L169.99 302.28 L171.34 304.76 L172.70 307.21 L174.06 309.64 L175.41 312.04 L176.77 314.42 L178.12 316.77 L179.48 319.09 L180.84 321.39 L182.19 323.67 L183.55 325.92 L184.91 328.16 L186.26 330.36 L187.62 332.55 L188.98 334.71 L190.33 336.85 L191.69 338.97 L193.05 341.07 L194.40 343.15 L195.76 345.21 L197.11 347.24 L198.47 349.26 L199.83 351.26 L201.18 353.24 L202.54 355.20 L203.90 357.16 L205.25 359.09 L206.61 361.01 L207.97 362.90 L209.32 364.78 L210.68 366.63 L212.03 368.47 L213.39 370.28 L214.75 372.08 L216.10 373.86 L217.46 375.62 L218.82 377.36 L220.17 379.08 L221.53 380.78 L222.89 382.47 L224.24 384.13 L225.60 385.78 L226.96 387.42 L228.31 389.03 L229.67 390.63 L231.02 392.21 L232.38 393.78 L233.74 395.33 L235.09 396.86 L236.45 398.38 L237.81 399.88 L239.16 401.36 L240.52 402.83 L241.88 404.29 L243.23 405.72 L244.59 407.15 L245.94 408.56 L247.30 409.95 L248.66 411.33 L250.01 412.70 L251.37 414.05 L252.73 415.39 L254.08 416.72 L255.44 418.03 L256.80 419.32 L258.15 420.63 L259.51 421.92 L260.87 423.20 L262.22 424.46 L263.58 425.72 L264.93 426.96 L266.29 428.19 L267.65 429.41 L269.00 430.62 L270.36 431.82 L271.72 433.00 L273.07 434.18 L274.43 435.34 L275.79 436.49 L277.14 437.63 L278.50 438.76 L279.85 439.88 L281.21 440.98 L282.57 442.08 L283.92 443.16 L285.28 444.24 L286.64 445.30 L287.99 446.35 L289.35 447.39 L290.71 448.42 L292.06 449.44 L293.42 450.45 L294.78 451.45 L296.13 452.44 L297.49 453.42 L298.84 454.39 L300.20 455.35 L301.56 456.30 L302.91 457.24 L304.27 458.16 L305.63 459.08 L306.98 459.99 L308.34 460.89 L309.70 461.78 L311.05 462.66 L312.41 463.53 L313.76 464.38 L315.12 465.23 L316.48 466.08 L317.83 466.91 L319.19 467.73 L320.55 468.54 L321.90 469.34 L323.26 470.14 L324.62 470.92 L325.97 471.70 L327.33 472.46 L328.69 473.22 L330.04 473.97 L331.40 474.71 L332.75 475.44 L334.11 476.16 L335.47 476.87 L336.82 477.58 L338.18 478.28 L339.54 478.95 L340.89 479.63 L342.25 480.29 L343.61 480.95 L344.96 481.60 L346.32 482.24 L347.67 482.88 L349.03 483.51 L350.39 484.13 L351.74 484.75 L353.10 485.36 L354.46 485.96 L355.81 486.56 L357.17 487.15 L358.53 487.74 L359.88 488.32 L361.24 488.89 L362.60 489.46 L363.95 490.02 L365.31 490.58 L366.66 491.13 L368.02 491.67 L369.38 492.21 L370.73 492.74 L372.09 493.27 L373.45 493.79 L374.80 494.31 L376.16 494.82 L377.52 495.33 L378.87 495.83 L380.23 496.32 L381.58 496.81 L382.94 497.29 L384.30 497.77 L385.65 498.25 L387.01 498.72 L388.37 499.18 L389.72 499.64 L391.08 500.09 L392.44 500.54 L393.79 500.99 L395.15 501.43 L396.51 501.86 L397.86 502.29 L399.22 502.72 L400.57 503.14 L401.93 503.56 L403.29 503.97 L404.64 504.38 L406.00 504.78 L407.36 505.18 L408.71 505.57 L410.07 505.96 L411.43 506.35 L412.78 506.73 L414.14 507.11 L415.49 507.49 L416.85 507.86 L418.21 508.23 L419.56 508.59 L420.92 508.95 L422.28 509.31 L423.63 509.66 L424.99 510.01 L426.35 510.35 L427.70 510.70 L429.06 511.03 L430.42 511.37 L431.77 511.70 L433.13 512.03 L434.48 512.35 L435.84 512.67 L437.20 512.99 L438.55 513.31 L439.91 513.62 L441.27 513.92 L442.62 514.23 L443.98 514.53 L445.34 514.83 L446.69 515.12 L448.05 515.42 L449.40 515.70 L450.76 515.99 L452.12 516.27 L453.47 516.55 L454.83 516.83 L456.19 517.10 L457.54 517.37 L458.90 517.64 L460.26 517.91 L461.61 518.17 L462.97 518.43 L464.33 518.69 L465.68 518.94 L467.04 519.19 L468.39 519.44 L469.75 519.69 L471.11 519.93 L472.46 520.17 L473.82 520.41 L475.18 520.65 L476.53 520.88 L477.89 521.11 L479.25 521.34 L480.60 521.57 L481.96 521.79 L483.31 522.02 L484.67 522.24 L486.03 522.45 L487.38 522.67 L488.74 522.88 L490.10 523.09 L491.45 523.30 L492.81 523.51 L494.17 523.71 L495.52 523.91 L496.88 524.12 L498.24 524.31 L499.59 524.51 L500.95 524.70 L502.30 524.90 L503.66 525.09 L505.02 525.28 L506.37 525.46 L507.73 525.65 L509.09 525.83 L510.44 526.01 L511.80 526.19 L513.16 526.37 L514.51 526.54 L515.87 526.72 L517.22 526.89 L518.58 527.06 L519.94 527.23 L521.29 527.39 L522.65 527.56 L524.01 527.72 L525.36 527.89 L526.72 528.05 L528.08 528.21 L529.43 528.36 L530.79 528.52 L532.15 528.67 L533.50 528.82 L534.86 528.98 L536.21 529.13 L537.57 529.27 L538.93 529.42 L540.28 529.57 L541.64 529.71 L543.00 529.85 L544.35 529.99 L545.71 530.13 L547.07 530.27 L548.42 530.41 L549.78 530.54 L551.13 530.68 L552.49 530.81 L553.85 530.94 L555.20 531.07 L556.56 531.20 L557.92 531.33 L559.27 531.46 L560.63 531.58 L561.99 531.71 L563.34 531.83 L564.70 531.95 L566.06 532.07 L567.41 532.19 L568.77 532.31 L570.12 532.43 L571.48 532.54 L572.84 532.66 L574.19 532.77 L575.55 532.89 L576.91 533.00 L578.26 533.11 L579.62 533.22 L580.98 533.33 L582.33 533.44 L583.69 533.54 L585.04 533.65 L586.40 533.75 L587.76 533.86 L589.11 533.96 L590.47 534.06 L591.83 534.17 L593.18 534.27 L594.54 534.37 L595.90 534.46 L597.25 534.56 L598.61 534.66 L599.97 534.75 L601.32 534.85 L602.68 534.94 L604.03 535.04 L605.39 535.13 L606.75 535.22 L608.10 535.31 L609.46 535.40 L610.82 535.49 L612.17 535.58 L613.53 535.67 L614.89 535.76 L616.24 535.84 L617.60 535.93 L618.95 536.01 L620.31 536.10 L621.67 536.18 L623.02 536.27 L624.38 536.35 L625.74 536.43 L627.09 536.51 L628.45 536.59 L629.81 536.67 L631.16 536.75 L632.52 536.83 L633.88 536.91 L635.23 536.99 L636.59 537.06 L637.94 537.14 L639.30 537.21 L640.66 537.29 L642.01 537.36 L643.37 537.44 L644.73 537.51 L646.08 537.58 L647.44 537.66 L648.80 537.73 L650.15 537.80 L651.51 537.87 L652.86 537.94 L654.22 538.01 L655.58 538.08 L656.93 538.15 L658.29 538.22 L659.65 538.29 L661.00 538.35 L662.36 538.42 L663.72 538.49 L665.07 538.55 L666.43 538.62 L667.79 538.69 L669.14 538.75 L670.50 538.82 L671.85 538.88 L673.21 538.95 L674.57 539.01 L675.92 539.07 L677.28 539.14 L678.64 539.20 L679.99 539.26 L681.35 539.32 L682.71 539.38 L684.06 539.45 L685.42 539.51 L686.77 539.57 L688.13 539.63 L689.49 539.69 L690.84 539.75 L692.20 539.81 L693.56 539.87 L694.91 539.93 L696.27 539.99 L697.63 540.04 L698.98 540.10 L700.34 540.16 L701.70 540.22 L703.05 540.28 L704.41 540.33 L705.76 540.39 L707.12 540.45 L708.48 540.51 L709.83 540.56 L711.19 540.62 L712.55 540.68 L713.90 540.73 L715.26 540.79 L716.62 540.85 L717.97 540.90 L719.33 540.96 L720.68 541.01 L722.04 541.07 L723.40 541.12 L724.75 541.18 L726.11 541.23 L727.47 541.29 L728.82 541.34 L730.18 541.40 L731.54 541.45 L732.89 541.51 L734.25 541.56 L735.61 541.62 L736.96 541.67 L738.32 541.73 L739.67 541.78 L741.03 541.84 L742.39 541.89 L743.74 541.95 L745.10 542.00"/>
<path d="M66.90 5.95 L68.26 11.97 L69.61 17.93 L70.97 23.81 L72.33 29.63 L73.68 35.38 L75.04 41.06 L76.39 46.68 L77.75 52.23 L79.11 57.71 L80.46 63.13 L81.82 68.49 L83.18 73.79 L84.53 79.02 L85.89 84.20 L87.25 89.31 L88.60 94.37 L89.96 99.37 L91.32 104.32 L92.67 109.21 L94.03 114.04 L95.38 118.82 L96.74 123.54 L98.10 128.20 L99.45 132.81 L100.81 137.36 L102.17 141.86 L103.52 146.30 L104.88 150.69 L106.24 155.03 L107.59 159.31 L108.95 163.55 L110.30 167.73 L111.66 171.86 L113.02 175.95 L114.37 179.98 L115.73 183.97 L117.09 187.92 L118.44 191.81 L119.80 195.67 L121.16 199.48 L122.51 203.24 L123.87 206.97 L125.23 210.65 L126.58 214.29 L127.94 217.90 L129.29 221.46 L130.65 224.99 L132.01 228.48 L133.36 231.93 L134.72 235.35 L136.08 238.72 L137.43 242.04 L138.79 245.32 L140.15 248.55 L141.50 251.75 L142.86 254.90 L144.21 258.01 L145.57 261.08 L146.93 264.12 L148.28 267.11 L149.64 270.07 L151.00 272.99 L152.35 275.87 L153.71 278.72 L155.07 281.53 L156.42 284.31 L157.78 287.05 L159.14 289.75 L160.49 292.43 L161.85 295.07 L163.20 297.68 L164.56 300.25 L165.92 302.80 L167.27 305.32 L168.63 307.80 L169.99 310.26 L171.34 312.69 L172.70 315.09 L174.06 317.46 L175.41 319.81 L176.77 322.13 L178.12 324.43 L179.48 326.70 L180.84 328.94 L182.19 331.16 L183.55 333.36 L184.91 335.54 L186.26 337.69 L187.62 339.82 L188.98 341.93 L190.33 344.02 L191.69 346.09 L193.05 348.14 L194.40 350.17 L195.76 352.18 L197.11 354.17 L198.47 356.15 L199.83 358.11 L201.18 360.05 L202.54 361.98 L203.90 363.93 L205.25 365.86 L206.61 367.77 L207.97 369.66 L209.32 371.52 L210.68 373.37 L212.03 375.20 L213.39 377.00 L214.75 378.79 L216.10 380.55 L217.46 382.30 L218.82 384.03 L220.17 385.74 L221.53 387.43 L222.89 389.10 L224.24 390.76 L225.60 392.39 L226.96 394.01 L228.31 395.61 L229.67 397.19 L231.02 398.76 L232.38 400.31 L233.74 401.84 L235.09 403.36 L236.45 404.86 L237.81 406.34 L239.16 407.81 L240.52 409.26 L241.88 410.69 L243.23 412.11 L244.59 413.52 L245.94 414.91 L247.30 416.28 L248.66 417.64 L250.01 418.99 L251.37 420.32 L252.73 421.64 L254.08 422.94 L255.44 424.23 L256.80 425.50 L258.15 426.77 L259.51 428.03 L260.87 429.27 L262.22 430.50 L263.58 431.71 L264.93 432.92 L266.29 434.11 L267.65 435.28 L269.00 436.45 L270.36 437.60 L271.72 438.74 L273.07 439.87 L274.43 440.99 L275.79 442.09 L277.14 443.18 L278.50 444.26 L279.85 445.33 L281.21 446.39 L282.57 447.44 L283.92 448.48 L285.28 449.50 L286.64 450.51 L287.99 451.52 L289.35 452.51 L290.71 453.49 L292.06 454.46 L293.42 455.42 L294.78 456.37 L296.13 457.31 L297.49 458.24 L298.84 459.16 L300.20 460.07 L301.56 460.97 L302.91 461.86 L304.27 462.74 L305.63 463.61 L306.98 464.47 L308.34 465.32 L309.70 466.16 L311.05 467.00 L312.41 467.82 L313.76 468.64 L315.12 469.44 L316.48 470.24 L317.83 471.03 L319.19 471.81 L320.55 472.58 L321.90 473.34 L323.26 474.09 L324.62 474.84 L325.97 475.58 L327.33 476.31 L328.69 477.03 L330.04 477.74 L331.40 478.44 L332.75 479.14 L334.11 479.83 L335.47 480.51 L336.82 481.18 L338.18 481.85 L339.54 482.51 L340.89 483.15 L342.25 483.79 L343.61 484.43 L344.96 485.05 L346.32 485.67 L347.67 486.28 L349.03 486.89 L350.39 487.49 L351.74 488.08 L353.10 488.67 L354.46 489.25 L355.81 489.82 L357.17 490.39 L358.53 490.95 L359.88 491.50 L361.24 492.05 L362.60 492.59 L363.95 493.13 L365.31 493.66 L366.66 494.18 L368.02 494.70 L369.38 495.22 L370.73 495.73 L372.09 496.23 L373.45 496.73 L374.80 497.22 L376.16 497.70 L377.52 498.19 L378.87 498.66 L380.23 499.13 L381.58 499.60 L382.94 500.06 L384.30 500.52 L385.65 500.97 L387.01 501.41 L388.37 501.86 L389.72 502.29 L391.08 502.72 L392.44 503.15 L393.79 503.58 L395.15 503.99 L396.51 504.41 L397.86 504.82 L399.22 505.22 L400.57 505.62 L401.93 506.02 L403.29 506.41 L404.64 506.80 L406.00 507.19 L407.36 507.57 L408.71 507.95 L410.07 508.32 L411.43 508.69 L412.78 509.05 L414.14 509.41 L415.49 509.77 L416.85 510.13 L418.21 510.48 L419.56 510.82 L420.92 511.16 L422.28 511.50 L423.63 511.84 L424.99 512.17 L426.35 512.50 L427.70 512.82 L429.06 513.14 L430.42 513.46 L431.77 513.77 L433.13 514.08 L434.48 514.39 L435.84 514.69 L437.20 514.99 L438.55 515.29 L439.91 515.59 L441.27 515.88 L442.62 516.17 L443.98 516.45 L445.34 516.73 L446.69 517.01 L448.05 517.29 L449.40 517.56 L450.76 517.83 L452.12 518.10 L453.47 518.36 L454.83 518.62 L456.19 518.88 L457.54 519.14 L458.90 519.39 L460.26 519.64 L461.61 519.89 L462.97 520.13 L464.33 520.38 L465.68 520.62 L467.04 520.85 L468.39 521.09 L469.75 521.32 L471.11 521.55 L472.46 521.78 L473.82 522.00 L475.18 522.23 L476.53 522.45 L477.89 522.67 L479.25 522.88 L480.60 523.09 L481.96 523.30 L483.31 523.51 L484.67 523.72 L486.03 523.92 L487.38 524.13 L488.74 524.33 L490.10 524.52 L491.45 524.72 L492.81 524.91 L494.17 525.11 L495.52 525.30 L496.88 525.48 L498.24 525.67 L499.59 525.85 L500.95 526.03 L502.30 526.21 L503.66 526.39 L505.02 526.57 L506.37 526.74 L507.73 526.92 L509.09 527.09 L510.44 527.26 L511.80 527.42 L513.16 527.59 L514.51 527.75 L515.87 527.91 L517.22 528.07 L518.58 528.23 L519.94 528.39 L521.29 528.55 L522.65 528.70 L524.01 528.85 L525.36 529.00 L526.72 529.15 L528.08 529.30 L529.43 529.45 L530.79 529.59 L532.15 529.73 L533.50 529.88 L534.86 530.02 L536.21 530.15 L537.57 530.29 L538.93 530.43 L540.28 530.56 L541.64 530.70 L543.00 530.83 L544.35 530.96 L545.71 531.09 L547.07 531.22 L548.42 531.34 L549.78 531.47 L551.13 531.59 L552.49 531.72 L553.85 531.84 L555.20 531.96 L556.56 532.08 L557.92 532.20 L559.27 532.31 L560.63 532.43 L561.99 532.54 L563.34 532.66 L564.70 532.77 L566.06 532.88 L567.41 532.99 L568.77 533.10 L570.12 533.21 L571.48 533.32 L572.84 533.42 L574.19 533.53 L575.55 533.63 L576.91 533.74 L578.26 533.84 L579.62 533.94 L580.98 534.04 L582.33 534.14 L583.69 534.24 L585.04 534.34 L586.40 534.43 L587.76 534.53 L589.11 534.62 L590.47 534.72 L591.83 534.81 L593.18 534.90 L594.54 534.99 L595.90 535.08 L597.25 535.17 L598.61 535.26 L599.97 535.35 L601.32 535.44 L602.68 535.53 L604.03 535.61 L605.39 535.70 L606.75 535.78 L608.10 535.86 L609.46 535.95 L610.82 536.03 L612.17 536.11 L613.53 536.19 L614.89 536.27 L616.24 536.35 L617.60 536.43 L618.95 536.51 L620.31 536.59 L621.67 536.66 L623.02 536.74 L624.38 536.81 L625.74 536.89 L627.09 536.96 L628.45 537.04 L629.81 537.11 L631.16 537.18 L632.52 537.26 L633.88 537.33 L635.23 537.40 L636.59 537.47 L637.94 537.54 L639.30 537.61 L640.66 537.68 L642.01 537.74 L643.37 537.81 L644.73 537.88 L646.08 537.95 L647.44 538.01 L648.80 538.08 L650.15 538.14 L651.51 538.21 L652.86 538.27 L654.22 538.34 L655.58 538.40 L656.93 538.46 L658.29 538.53 L659.65 538.59 L661.00 538.65 L662.36 538.71 L663.72 538.77 L665.07 538.84 L666.43 538.90 L667.79 538.96 L669.14 539.02 L670.50 539.08 L671.85 539.13 L673.21 539.19 L674.57 539.25 L675.92 539.31 L677.28 539.37 L678.64 539.43 L679.99 539.48 L681.35 539.54 L682.71 539.60 L684.06 539.65 L685.42 539.71 L686.77 539.76 L688.13 539.82 L689.49 539.87 L690.84 539.93 L692.20 539.98 L693.56 540.04 L694.91 540.09 L696.27 540.15 L697.63 540.20 L698.98 540.26 L700.34 540.31 L701.70 540.36 L703.05 540.42 L704.41 540.47 L705.76 540.52 L707.12 540.57 L708.48 540.63 L709.83 540.68 L711.19 540.73 L712.55 540.78 L713.90 540.83 L715.26 540.89 L716.62 540.94 L717.97 540.99 L719.33 541.04 L720.68 541.09 L722.04 541.14 L723.40 541.19 L724.75 541.24 L726.11 541.29 L727.47 541.35 L728.82 541.40 L730.18 541.45 L731.54 541.50 L732.89 541.55 L734.25 541.60 L735.61 541.65 L736.96 541.70 L738.32 541.75 L739.67 541.80 L741.03 541.85 L742.39 541.90 L743.74 541.95 L745.10 542.00"/>
</g>
<rect x="66.90" y="5.95" width="678.20" height="536.05" fill="none" stroke="#222" stroke-width="1.6"/>
<path d="M134.72 542.00 v-7.70 M134.72 5.95 v7.70 M66.90 488.39 h7.20 M745.10 488.39 h-7.20 M202.54 542.00 v-7.70 M202.54 5.95 v7.70 M66.90 434.79 h7.20 M745.10 434.79 h-7.20 M270.36 542.00 v-7.70 M270.36 5.95 v7.70 M66.90 381.19 h7.20 M745.10 381.19 h-7.20 M338.18 542.00 v-7.70 M338.18 5.95 v7.70 M66.90 327.58 h7.20 M745.10 327.58 h-7.20 M406.00 542.00 v-7.70 M406.00 5.95 v7.70 M66.90 273.98 h7.20 M745.10 273.98 h-7.20 M473.82 542.00 v-7.70 M473.82 5.95 v7.70 M66.90 220.37 h7.20 M745.10 220.37 h-7.20 M541.64 542.00 v-7.70 M541.64 5.95 v7.70 M66.90 166.76 h7.20 M745.10 166.76 h-7.20 M609.46 542.00 v-7.70 M609.46 5.95 v7.70 M66.90 113.16 h7.20 M745.10 113.16 h-7.20 M677.28 542.00 v-7.70 M677.28 5.95 v7.70 M66.90 59.56 h7.20 M745.10 59.56 h-7.20" fill="none" stroke="#222" stroke-width="1.35"/>
<g class="t" text-anchor="middle">
<text x="66.30" y="571.8">0</text>
<text x="134.12" y="571.8">0.5</text>
<text x="201.94" y="571.8">1</text>
<text x="269.76" y="571.8">1.5</text>
<text x="337.58" y="571.8">2</text>
<text x="405.40" y="571.8">2.5</text>
<text x="473.22" y="571.8">3</text>
<text x="541.04" y="571.8">3.5</text>
<text x="608.86" y="571.8">4</text>
<text x="676.68" y="571.8">4.5</text>
<text x="744.50" y="571.8">5</text>
</g>
<g class="t" text-anchor="end">
<text x="57.6" y="550.60">0</text>
<text x="57.6" y="497.00">0.1</text>
<text x="57.6" y="443.39">0.2</text>
<text x="57.6" y="389.79">0.3</text>
<text x="57.6" y="336.18">0.4</text>
<text x="57.6" y="282.58">0.5</text>
<text x="57.6" y="228.97">0.6</text>
<text x="57.6" y="175.37">0.7</text>
<text x="57.6" y="121.76">0.8</text>
<text x="57.6" y="68.16">0.9</text>
<text x="57.6" y="14.55">1</text>
</g>
<text class="eta" x="405.8" y="603.4" text-anchor="middle" style="font-size:26px">η</text>
<text class="yl" transform="translate(16.6 274.6) rotate(-90)" text-anchor="middle">g<tspan dx="1.6">(</tspan><tspan class="eta" style="font-size:26px;stroke:none">η</tspan>)</text>
<rect x="205.7" y="48.2" width="268.8" height="74.8" fill="#fff" stroke="#222" stroke-width="1.4"/>
<path d="M212.1 68.15 H274.7" stroke="#ff0000" stroke-width="1.5" fill="none"/>
<path d="M212.1 103 H274.7" stroke="#000" stroke-width="1.55" stroke-dasharray="15.6 9.7" fill="none"/>
<text class="lg" y="72"><tspan x="280">Ag+TiO</tspan><tspan class="sb" x="344.9" dy="9">2</tspan><tspan x="353.9" dy="-9">+Al</tspan><tspan class="sb" x="382.4" dy="9">2</tspan><tspan x="391.4" dy="-9">O</tspan><tspan class="sb" x="407" dy="9">3</tspan><tspan x="417" dy="-9">/blood</tspan></text>
<text class="lg" y="105.7"><tspan x="280">Ag+TiO</tspan><tspan class="sb" x="344.9" dy="9">2</tspan><tspan x="353.9" dy="-9">/blood</tspan></text>
<rect x="463.7" y="303.3" width="153.05" height="43.35" fill="#fff" stroke="#000" stroke-width="1.45"/>
<text class="an" y="332.6"><tspan x="472.8">F</tspan><tspan x="486.8" dy="9.4" style="font-size:16.5px">d</tspan><tspan dy="-9.4"> = 5, 10, 15</tspan></text>
<path d="M271.7 356.8 L215 408" stroke="#000" stroke-width="1.5" fill="none"/>
<polygon points="206,416.7 215.85,397.4 216.55,406.65 226.1,408.6" fill="#000" stroke="#000" stroke-width="1.3" stroke-linejoin="round"/>
</svg>
</body></html>
